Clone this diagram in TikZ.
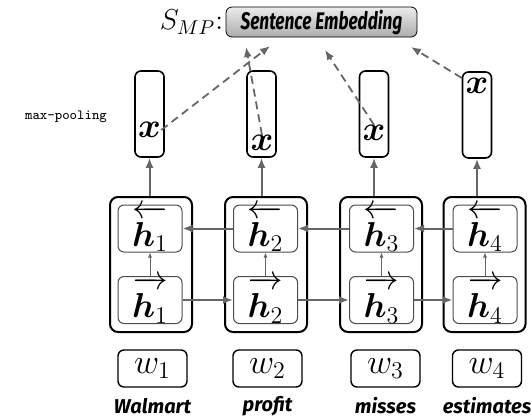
\documentclass[tikz,border=0pt]{standalone}
\usepackage{amsmath,bm}
\usepackage{graphicx}
\usepackage{fontspec}
\newfontfamily\wordfont{Fira Sans}
\usepackage{tikz}
\usetikzlibrary{arrows.meta, positioning}
\definecolor{arrgray}{HTML}{666666}
\newcommand{\hbk}[1]{\overleftarrow{\bm{h}_{#1}\rule{0pt}{0.82em}}}
\newcommand{\hfw}[1]{\overrightarrow{\bm{h}_{#1}\rule{0pt}{0.82em}}}
\tikzset{
  cell/.style={rectangle, draw, line width=1pt, rounded corners=4pt, minimum width=41pt, minimum height=67.5pt},
  state/.style={rectangle, draw=black!70, line width=0.5pt, rounded corners=3pt, minimum width=32pt, minimum height=23.5pt, inner sep=0pt, font=\LARGE},
  pool/.style={rectangle, draw, line width=0.8pt, rounded corners=3pt, minimum width=14.5pt, minimum height=43pt},
  word/.style={rectangle, draw, line width=0.7pt, rounded corners=3pt, minimum width=34.5pt, minimum height=18.5pt, inner sep=0pt, font=\LARGE},
  token/.style={font=\wordfont\bfseries\itshape\normalsize},
  arrow/.style={-{Latex[length=5pt,width=4pt]}, arrgray, line width=1pt},
  thin arrow/.style={-{Latex[length=2.5pt,width=2pt]}, arrgray, line width=0.4pt},
  dash arrow/.style={-{Latex[length=5pt,width=4pt]}, arrgray, line width=0.9pt, dashed, dash pattern=on 4pt off 2.5pt},
}

\begin{document}
\begin{tikzpicture}[x=0.5pt, y=-0.5pt]
    \useasboundingbox (0,0) rectangle (531,418);
    % sentence embedding
    \node[rectangle, draw, rounded corners=3pt, top color=gray!15, bottom color=gray!65,
          minimum width=95.5pt, minimum height=15pt, inner sep=0pt] (emb) at (321.5,22)
          {\scalebox{0.72}[1]{\wordfont\bfseries\itshape\large Sentence Embedding}};
    \node[left=0pt of emb, inner sep=1pt, font=\Large] (smp) {$S_{MP}$:};
    \node[font=\ttfamily\scriptsize] (mp) at (66,117) {max-pooling};
    % cells
    \node[cell] (c1) at (151,264.5) {};
    \node[cell] (c2) at (266,264.5) {};
    \node[cell] (c3) at (381,264.5) {};
    \node[cell] (c4) at (484.5,264.5) {};
    \node[state] (b1) at (150,228.5) {$\hbk{1}$};
    \node[state] (b2) at (265.5,228.5) {$\hbk{2}$};
    \node[state] (b3) at (381.5,228.5) {$\hbk{3}$};
    \node[state] (b4) at (485,228.5) {$\hbk{4}$};
    \node[state] (f1) at (150,300) {$\hfw{1}$};
    \node[state] (f2) at (265.5,300) {$\hfw{2}$};
    \node[state] (f3) at (381.5,300) {$\hfw{3}$};
    \node[state] (f4) at (485,300) {$\hfw{4}$};
    % pooled vectors
    \node[pool] (p1) at (149.5,114) {};
    \node[pool] (p2) at (261.5,114) {};
    \node[pool] (p3) at (374,114) {};
    \node[pool] (p4) at (477,115) {};
    \node[inner sep=0pt, font=\LARGE] (x1) at (149.5,130) {$\bm{x}$};
    \node[inner sep=0pt, font=\LARGE] (x2) at (262,143) {$\bm{x}$};
    \node[inner sep=0pt, font=\LARGE] (x3) at (374,133) {$\bm{x}$};
    \node[inner sep=0pt, font=\LARGE] (x4) at (477,86) {$\bm{x}$};
    % words
    \node[word] (w1) at (152.5,368.5) {$w_1$};
    \node[word] (w2) at (267.5,368.5) {$w_2$};
    \node[word] (w3) at (385.5,368.5) {$w_3$};
    \node[word] (w4) at (487,368.5) {$w_4$};
    \node[token] (t1) at (152.5,406) {Walmart};
    \node[token] (t2) at (267.5,406) {profit};
    \node[token] (t3) at (385.5,406) {misses};
    \node[token] (t4) at (487,406) {estimates};
    % targets under the embedding
    \coordinate (e1) at (270,46);
    \coordinate (e2) at (246,47);
    \coordinate (e3) at (325,50);
    \coordinate (e4) at (411,47);

    \draw[arrow] (f1) -- (f2);
    \draw[arrow] (f2) -- (f3);
    \draw[arrow] (f3) -- (f4);
    \draw[arrow] (b4) -- (b3);
    \draw[arrow] (b3) -- (b2);
    \draw[arrow] (b2) -- (b1);
    \draw[thin arrow] (f1) -- (b1);
    \draw[thin arrow] (f2) -- (b2);
    \draw[thin arrow] (f3) -- (b3);
    \draw[thin arrow] (f4) -- (b4);
    \draw[arrow] (c1.north -| p1) -- (p1);
    \draw[arrow] (c2.north -| p2) -- (p2);
    \draw[arrow] (c3.north -| p3) -- (p3);
    \draw[arrow] (c4.north -| p4) -- (p4);
    \draw[dash arrow] (x1.east) -- (e1);
    \draw[dash arrow] (x2.north) -- (e2);
    \draw[dash arrow] (x3.north) -- (e3);
    \draw[dash arrow] (p4.west |- x4.north) -- (e4);
\end{tikzpicture}
\end{document}
